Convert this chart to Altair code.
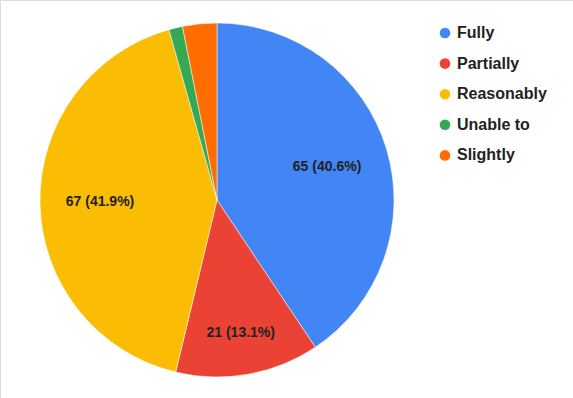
import altair as alt
import pandas as pd

categories = ["Fully", "Partially", "Reasonably", "Unable to", "Slightly"]
counts = [65, 21, 67, 2, 5]
colors = ["#4285F4", "#EA4335", "#FBBC04", "#34A853", "#FF6D01"]

total = sum(counts)
df = pd.DataFrame({
    "cat": categories,
    "v": counts,
    "i": list(range(len(categories))),
})
df["label"] = [f"{c} ({c / total * 100:.1f}%)" if c / total > 0.05 else "" for c in counts]

cx, cy = 217, 200

arcs = alt.Chart(df).mark_arc(outerRadius=177, stroke="white", strokeWidth=0.5).encode(
    theta=alt.Theta("v:Q", stack=True, scale=alt.Scale(domain=[0, total])),
    order=alt.Order("i:Q"),
    x=alt.value(cx),
    y=alt.value(cy),
    color=alt.Color(
        "cat:N",
        scale=alt.Scale(domain=categories, range=colors),
        sort=categories,
        legend=alt.Legend(
            title=None,
            orient="none",
            legendX=437,
            legendY=25,
            symbolType="circle",
            symbolSize=113,
            symbolStrokeWidth=0,
            labelFont="Liberation Sans",
            labelFontWeight="bold",
            labelFontSize=16,
            labelColor="#222222",
            labelOffset=4,
            rowPadding=14.6,
        ),
    ),
)

texts = alt.Chart(df).transform_window(
    cum="sum(v)", sort=[alt.SortField("i")], frame=[None, 0]
).transform_calculate(
    mid="datum.cum - datum.v / 2",
    lab_r="datum.cat == 'Partially' ? 135 : (datum.cat == 'Reasonably' ? 117 : 115)",
).mark_text(
    font="Liberation Sans",
    fontWeight="bold",
    fontSize=14,
    color="#222222",
).encode(
    theta=alt.Theta("mid:Q", stack=None, scale=alt.Scale(domain=[0, total])),
    radius=alt.Radius("lab_r:Q", scale=None),
    x=alt.value(cx),
    y=alt.value(cy),
    text="label:N",
)

chart = (arcs + texts).properties(
    width=573,
    height=398,
    padding=0,
    autosize=alt.AutoSizeParams(type="none"),
).configure_view(stroke=None).configure(background="white")

chart.save("out.html", embed_options={"renderer": "svg", "actions": False})
